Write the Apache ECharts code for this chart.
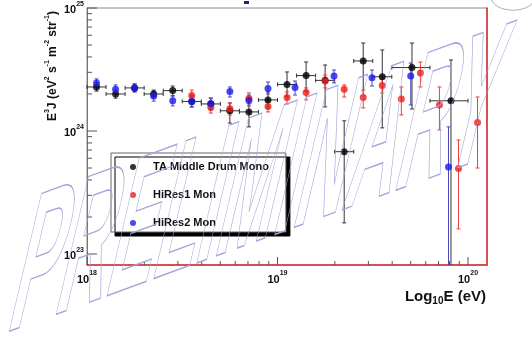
<!DOCTYPE html>
<html>
<head>
<meta charset="utf-8">
<script src="https://cdn.jsdelivr.net/npm/echarts@6/dist/echarts.min.js"></script>
<style>
html,body{margin:0;padding:0;background:#fff}
#main{width:532px;height:339px}
</style>
</head>
<body>
<div id="main"></div>
<script>
// TA Middle Drum Mono (E, E3J, energy bin edges, flux error range)
var mdE    = [1.122e18, 1.413e18, 1.778e18, 2.239e18, 2.818e18, 3.548e18, 4.467e18, 5.623e18, 7.079e18, 8.913e18, 1.122e19, 1.413e19, 1.778e19, 2.239e19, 2.818e19, 3.548e19, 5.08e19, 8.14e19];
var mdJ    = [2.28e24, 2.0e24, 2.24e24, 2.0e24, 2.13e24, 1.74e24, 1.66e24, 1.46e24, 1.43e24, 1.79e24, 2.39e24, 2.82e24, 2.58e24, 6.79e23, 3.71e24, 2.76e24, 3.28e24, 1.76e24];
var mdElo  = [1e18, 1.259e18, 1.585e18, 1.995e18, 2.512e18, 3.162e18, 3.981e18, 5.012e18, 6.31e18, 7.943e18, 1e19, 1.259e19, 1.585e19, 1.995e19, 2.512e19, 3.162e19, 3.981e19, 6.31e19];
var mdEhi  = [1.259e18, 1.585e18, 1.995e18, 2.512e18, 3.162e18, 3.981e18, 5.012e18, 6.31e18, 7.943e18, 1e19, 1.259e19, 1.585e19, 1.995e19, 2.512e19, 3.162e19, 3.981e19, 6.31e19, 1e20];
var mdJlo  = [2.11e24, 1.85e24, 2.08e24, 1.85e24, 1.93e24, 1.57e24, 1.48e24, 1.16e24, 1.08e24, 1.54e24, 1.89e24, 2.11e24, 1.57e24, 1.79e23, 1.93e24, 1.06e24, 1.51e24, 5e22];
var mdJhi  = [2.46e24, 2.15e24, 2.41e24, 2.15e24, 2.32e24, 1.93e24, 1.85e24, 1.69e24, 1.79e24, 2.08e24, 3.02e24, 3.64e24, 3.44e24, 1.21e24, 5.19e24, 4.56e24, 5.19e24, 3.78e24];

// HiRes1 Mono
var hr1E   = [3.548e18, 4.467e18, 5.623e18, 7.079e18, 8.913e18, 1.122e19, 1.413e19, 1.778e19, 2.239e19, 2.818e19, 3.548e19, 4.467e19, 5.623e19, 7.079e19, 8.913e19, 1.122e20];
var hr1J   = [1.94e24, 1.56e24, 1.52e24, 1.84e24, 1.58e24, 1.87e24, 2.06e24, 2.55e24, 2.18e24, 1.87e24, 2.34e24, 1.82e24, 2.96e24, 1.63e24, 4.96e23, 1.17e24];
var hr1Jlo = [1.75e24, 1.40e24, 1.35e24, 1.66e24, 1.43e24, 1.66e24, 1.79e24, 2.24e24, 1.89e24, 1.54e24, 2.04e24, 1.35e24, 2.28e24, 1.02e24, 1.60e23, 5.0e23];
var hr1Jhi = [2.15e24, 1.72e24, 1.69e24, 2.04e24, 1.75e24, 2.08e24, 2.24e24, 2.85e24, 2.37e24, 2.15e24, 2.65e24, 2.28e24, 3.64e24, 2.28e24, 8.45e23, 1.89e24];

// HiRes2 Mono
var hr2E   = [1.122e18, 1.413e18, 1.778e18, 2.239e18, 2.818e18, 3.548e18, 4.467e18, 5.623e18, 7.079e18, 8.913e18, 1.236e19, 1.98e19, 3.133e19, 5.004e19, 7.899e19];
var hr2J   = [2.46e24, 2.18e24, 2.24e24, 1.93e24, 1.76e24, 1.74e24, 1.67e24, 2.09e24, 1.77e24, 2.22e24, 2.26e24, 2.80e24, 2.71e24, 2.80e24, 5.10e23];
var hr2Jlo = [2.28e24, 2.0e24, 2.08e24, 1.75e24, 1.60e24, 1.57e24, 1.51e24, 1.89e24, 1.60e24, 2.0e24, 1.96e24, 2.46e24, 2.32e24, 1.63e24, 5e22];
var hr2Jhi = [2.65e24, 2.37e24, 2.41e24, 2.11e24, 1.93e24, 1.93e24, 1.85e24, 2.28e24, 1.96e24, 2.50e24, 2.55e24, 3.13e24, 3.13e24, 3.57e24, 1.08e24];

// axis ticks
var xMajorTicks = [1e18, 1e19, 1e20];
var xMinorTicks = [2e18, 3e18, 4e18, 5e18, 6e18, 7e18, 8e18, 9e18, 2e19, 3e19, 4e19, 5e19, 6e19, 7e19, 8e19, 9e19];
var yMajorTicks = [1e23, 1e24, 1e25];
var yMinorTicks = [2e23, 3e23, 4e23, 5e23, 6e23, 7e23, 8e23, 9e23, 2e24, 3e24, 4e24, 5e24, 6e24, 7e24, 8e24, 9e24];

var names = ['TA Middle Drum Mono', 'HiRes1 Mon', 'HiRes2 Mon'];

var FONT = 'Liberation Sans';

function rows() {
    var cols = Array.prototype.slice.call(arguments);
    return cols[0].map(function (v, i) {
        return cols.map(function (c) { return c[i]; });
    });
}

function powLabel(v) {
    var l = Math.log10(v), e = Math.round(l);
    if (Math.abs(l - e) > 1e-6) return '';
    return '{b|10}{s|' + e + '}';
}

var labelRich = {
    b: { fontSize: 11, fontWeight: 'bold', fontFamily: FONT, color: '#111', lineHeight: 15, verticalAlign: 'bottom' },
    s: { fontSize: 7, fontWeight: 'bold', fontFamily: FONT, color: '#111', lineHeight: 8, verticalAlign: 'top' }
};

// 误差棒
function errRender(color, hasX) {
    return function (params, api) {
        var cs = params.coordSys;
        var bottom = cs.y + cs.height, top = cs.y;
        var x = api.value(0), y = api.value(1);
        var c = api.coord([x, y]);
        var iLo = hasX ? 4 : 2, iHi = hasX ? 5 : 3;
        var yl = api.coord([x, api.value(iLo)])[1];
        var yh = api.coord([x, api.value(iHi)])[1];
        var st = { stroke: color, lineWidth: 1 };
        var ch = [];
        var ylc = Math.min(yl, bottom), yhc = Math.max(yh, top);
        ch.push({ type: 'line', shape: { x1: c[0], y1: ylc, x2: c[0], y2: yhc }, style: st });
        if (yl < bottom) ch.push({ type: 'line', shape: { x1: c[0] - 2, y1: yl, x2: c[0] + 2, y2: yl }, style: st });
        if (yh > top) ch.push({ type: 'line', shape: { x1: c[0] - 2, y1: yh, x2: c[0] + 2, y2: yh }, style: st });
        if (hasX) {
            var xl = api.coord([api.value(2), y])[0];
            var xh = api.coord([api.value(3), y])[0];
            ch.push({ type: 'line', shape: { x1: xl, y1: c[1], x2: xh, y2: c[1] }, style: st });
            ch.push({ type: 'line', shape: { x1: xl, y1: c[1] - 2, x2: xl, y2: c[1] + 2 }, style: st });
            ch.push({ type: 'line', shape: { x1: xh, y1: c[1] - 2, x2: xh, y2: c[1] + 2 }, style: st });
        }
        return { type: 'group', children: ch };
    };
}

// 对数刻度
function xTick(len) {
    return function (params, api) {
        var cs = params.coordSys;
        var x = api.coord([api.value(0), api.value(1)])[0];
        var y0 = cs.y + cs.height;
        return { type: 'line', shape: { x1: x, y1: y0, x2: x, y2: y0 - len }, style: { stroke: '#555', lineWidth: 1 } };
    };
}
function yTick(len) {
    return function (params, api) {
        var cs = params.coordSys;
        var y = api.coord([api.value(0), api.value(1)])[1];
        return { type: 'line', shape: { x1: cs.x, y1: y, x2: cs.x + len, y2: y }, style: { stroke: '#555', lineWidth: 1 } };
    };
}

var myChart = echarts.init(document.getElementById('main'));
var option = {
    animation: false,
    backgroundColor: '#fff',
    grid: { left: 87, right: 45, top: 8, bottom: 74, show: true, borderColor: '#888', borderWidth: 1, backgroundColor: 'transparent' },
    legend: {
        orient: 'vertical',
        left: 111,
        top: 153,
        data: names,
        icon: 'circle',
        itemWidth: 30,
        itemHeight: 6,
        itemGap: 14,
        padding: [7, 17, 2, 19],
        backgroundColor: '#fff',
        borderColor: '#666',
        borderWidth: 1,
        shadowColor: '#000',
        shadowBlur: 0,
        shadowOffsetX: 4,
        shadowOffsetY: 4,
        textStyle: { fontSize: 11, fontWeight: 'bold', fontFamily: FONT, color: '#111', lineHeight: 14 }
    },
    xAxis: {
        type: 'log',
        logBase: 10,
        min: 1e18,
        max: 1.258e20,
        splitLine: { show: false },
        axisTick: { show: false },
        axisLine: { lineStyle: { color: '#e0282c', width: 1.5 } },
        axisLabel: { margin: 5, formatter: powLabel, rich: labelRich },
        name: '{a|Log}{s|10}{a|E (eV)}',
        nameLocation: 'end',
        nameGap: -1,
        nameTextStyle: {
            align: 'right',
            verticalAlign: 'top',
            padding: [23, 0, 0, 0],
            rich: {
                a: { fontSize: 15, fontWeight: 'bold', fontFamily: FONT, color: '#111', lineHeight: 18 },
                s: { fontSize: 10, fontWeight: 'bold', fontFamily: FONT, color: '#111', lineHeight: 12, verticalAlign: 'bottom' }
            }
        }
    },
    yAxis: [
        {
            type: 'log',
            logBase: 10,
            min: 8.14e22,
            max: 1e25,
            splitLine: { show: false },
            axisTick: { show: false },
            axisLine: { lineStyle: { color: '#777', width: 1 } },
            axisLabel: { margin: 3, formatter: powLabel, rich: labelRich }
        },
        {
            type: 'log',
            logBase: 10,
            position: 'right',
            min: 8.14e22,
            max: 1e25,
            splitLine: { show: false },
            axisTick: { show: false },
            axisLabel: { show: false },
            axisLine: { lineStyle: { color: '#e0282c', width: 1.5 } }
        }
    ],
    series: [
        { type: 'custom', silent: true, z: 1, renderItem: xTick(8), data: xMajorTicks.map(function (v) { return [v, 1e24]; }) },
        { type: 'custom', silent: true, z: 1, renderItem: xTick(4), data: xMinorTicks.map(function (v) { return [v, 1e24]; }) },
        { type: 'custom', silent: true, z: 1, renderItem: yTick(10), data: yMajorTicks.map(function (v) { return [2e18, v]; }) },
        { type: 'custom', silent: true, z: 1, renderItem: yTick(5), data: yMinorTicks.map(function (v) { return [2e18, v]; }) },

        { type: 'custom', silent: true, z: 2, renderItem: errRender('#333', true), data: rows(mdE, mdJ, mdElo, mdEhi, mdJlo, mdJhi) },
        { type: 'custom', silent: true, z: 2, renderItem: errRender('#e8403a', false), data: rows(hr1E, hr1J, hr1Jlo, hr1Jhi) },
        { type: 'custom', silent: true, z: 2, renderItem: errRender('#4848b8', false), data: rows(hr2E, hr2J, hr2Jlo, hr2Jhi) },

        { name: names[0], type: 'scatter', z: 3, symbol: 'circle', symbolSize: 7, itemStyle: { color: '#000' }, data: rows(mdE, mdJ) },
        { name: names[1], type: 'scatter', z: 4, symbol: 'circle', symbolSize: 7, itemStyle: { color: '#f01c1c' }, data: rows(hr1E, hr1J) },
        { name: names[2], type: 'scatter', z: 5, symbol: 'circle', symbolSize: 7, itemStyle: { color: '#1c1cf0' }, data: rows(hr2E, hr2J) }
    ],
    graphic: [
        {
            type: 'text',
            x: 51,
            y: 66,
            rotation: Math.PI / 2,
            style: {
                text: '{a|E}{s|3}{a|J (eV}{s|2}{a| s}{s|-1}{a| m}{s|-2}{a| str}{s|-1}{a|)}',
                align: 'center',
                verticalAlign: 'middle',
                rich: {
                    a: { fontSize: 12, fontWeight: 'bold', fontFamily: FONT, fill: '#111', lineHeight: 15, verticalAlign: 'bottom' },
                    s: { fontSize: 7, fontWeight: 'bold', fontFamily: FONT, fill: '#111', lineHeight: 8, verticalAlign: 'top' }
                }
            }
        },
        { type: 'rect', shape: { x: 244, y: 1, width: 5, height: 3 }, style: { fill: '#20208a' } },
        { type: 'circle', x: 513, y: -3, scaleY: 0.6, shape: { cx: 0, cy: 0, r: 22 }, style: { fill: 'none', stroke: '#999', lineWidth: 1 } },
        // PRELIMINARY 水印
        {
            type: 'text',
            silent: true,
            z: 100,
            x: -6,
            y: 378,
            rotation: 0.35,
            skewX: -0.58,
            scaleX: 0.435,
            style: {
                text: 'PRELIMINARY',
                font: 'bold 172px "Liberation Sans"',
                align: 'left',
                verticalAlign: 'bottom',
                fill: 'none',
                stroke: '#a2a2dc',
                lineWidth: 1.3
            }
        }
    ]
};
myChart.setOption(option);
</script>
</body>
</html>
